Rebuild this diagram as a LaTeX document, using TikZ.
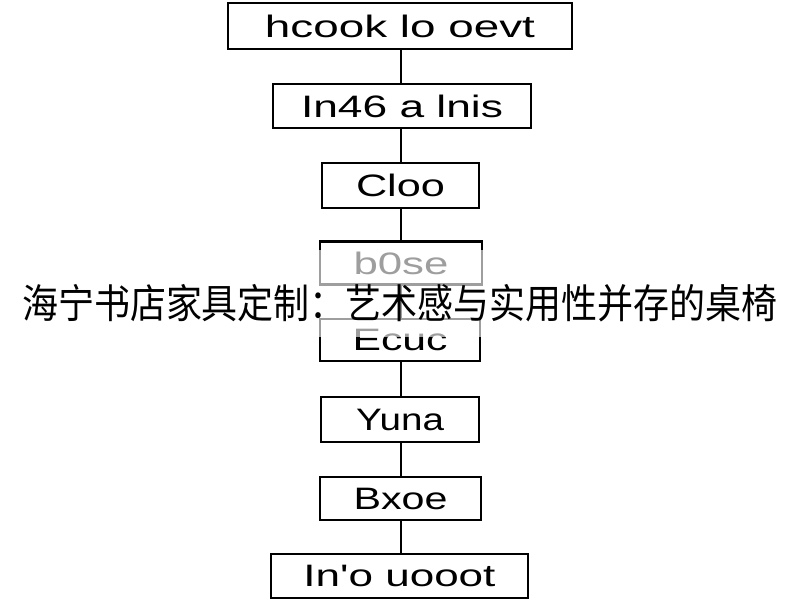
\documentclass[tikz,border=0pt]{standalone}
\usepackage{fontspec}
\usepackage{graphicx}
\setmainfont{Liberation Sans}
\newfontfamily\cjkfont{Noto Sans CJK SC}
\newcommand{\lblfont}{\fontsize{31}{33}\selectfont}
\newcommand{\lbl}[2]{\resizebox{#1pt}{\height}{\lblfont #2}}
\begin{document}
\begin{tikzpicture}[x=1pt,y=-1pt,
  flowbox/.style={draw=black, line width=2.2pt, fill=white, rectangle, inner sep=0pt},
  link/.style={draw=black, line width=2.2pt}]
\useasboundingbox (0,0) rectangle (800,600);
\fill[white] (0,0) rectangle (800,600);
\node[flowbox, minimum width=344pt, minimum height=46pt] (b1) at (400,26) {\lbl{270}{hcook lo oevt}};
\node[flowbox, minimum width=258pt, minimum height=44pt] (b2) at (402,106) {\lbl{202}{In46 a lnis}};
\node[flowbox, minimum width=157pt, minimum height=45pt] (b3) at (400.5,185.5) {\lbl{89}{Cloo}};
\node[flowbox, minimum width=162pt, minimum height=43pt] (b4) at (401,263) {\lbl{95}{b0se}};
\node[flowbox, minimum width=160pt, minimum height=42pt] (b5) at (400,340) {\lbl{95}{Ecuc}};
\node[flowbox, minimum width=158pt, minimum height=45pt] (b6) at (400,419.5) {\lbl{88}{Yuna}};
\node[flowbox, minimum width=161pt, minimum height=43pt] (b7) at (400.5,498.5) {\lbl{94}{Bxoe}};
\node[flowbox, minimum width=257pt, minimum height=44pt] (b8) at (399.5,576) {\lbl{192}{In\textquotesingle o uooot}};
\foreach \a/\b in {b1/b2,b2/b3,b3/b4,b4/b5,b5/b6,b6/b7,b7/b8}
  \draw[link] (\a.south -| 401,0) -- (\b.north -| 401,0);
\fill[white, opacity=0.62] (0,250) rectangle (800,337);
\node[inner sep=0pt] (title) at (400,303) {\scalebox{1}[1.12]{\resizebox{756pt}{!}{\cjkfont 海宁书店家具定制：艺术感与实用性并存的桌椅}}};
\end{tikzpicture}
\end{document}
